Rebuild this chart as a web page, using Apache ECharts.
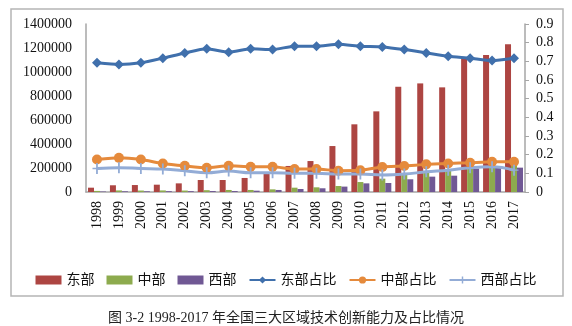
<!DOCTYPE html>
<html>
<head>
<meta charset="utf-8">
<script src="https://cdn.jsdelivr.net/npm/echarts@6/dist/echarts.min.js"></script>
<style>
  html, body { margin: 0; padding: 0; background: #fff; }
  #chart { width: 572px; height: 326px; }
</style>
</head>
<body>
<div id="chart"></div>
<script>
// Years on the category axis
const years = ['1998','1999','2000','2001','2002','2003','2004','2005','2006','2007',
               '2008','2009','2010','2011','2012','2013','2014','2015','2016','2017'];

// Technology innovation capacity by region (left axis)
const eastValues = [36000, 56000, 58000, 61000, 72000, 100000, 100000, 117000, 150000, 217000,
                    258000, 383000, 564000, 672000, 877000, 905000, 872000, 1119000, 1141000, 1231000];
const midValues  = [9000, 13000, 12000, 13000, 12000, 15000, 17000, 17000, 22000, 36000,
                    39000, 50000, 83000, 111000, 145000, 170000, 183000, 238000, 252000, 262000];
const westValues = [4000, 6000, 6000, 7000, 7000, 8000, 8000, 11000, 17000, 25000,
                    31000, 45000, 72000, 75000, 106000, 128000, 136000, 195000, 205000, 203000];

// Share of the national total (right axis)
const eastShare = [0.692, 0.683, 0.692, 0.717, 0.745, 0.767, 0.749, 0.767, 0.763, 0.781,
                   0.781, 0.791, 0.781, 0.777, 0.763, 0.745, 0.727, 0.717, 0.704, 0.717];
const midShare  = [0.174, 0.183, 0.174, 0.153, 0.140, 0.130, 0.140, 0.135, 0.135, 0.123,
                   0.123, 0.114, 0.116, 0.134, 0.139, 0.148, 0.153, 0.157, 0.162, 0.162];
const westShare = [0.126, 0.130, 0.126, 0.123, 0.114, 0.103, 0.112, 0.103, 0.103, 0.100,
                   0.100, 0.096, 0.096, 0.091, 0.096, 0.108, 0.117, 0.130, 0.135, 0.117];

// Axis tick ranges
const leftMax = 1400000, leftStep = 200000;
const rightMax = 0.9, rightStep = 0.1;

const serif = '"Liberation Serif", "Times New Roman", serif';
const cjk = '"Liberation Serif", "Noto Sans CJK SC", sans-serif';
const axisGrey = '#a6a6a6';

const chart = echarts.init(document.getElementById('chart'), null, { renderer: 'canvas' });

const plusPath = 'path://M-0.12,-1 L0.12,-1 L0.12,-0.12 L0.6,-0.12 L0.6,0.12 L0.12,0.12 L0.12,1 L-0.12,1 L-0.12,0.12 L-0.6,0.12 L-0.6,-0.12 L-0.12,-0.12 Z';

chart.setOption({
  animation: false,
  backgroundColor: '#fff',
  graphic: [{
    type: 'rect',
    shape: { x: 11, y: 9, width: 552, height: 287 },
    style: { fill: 'none', stroke: '#b5b5b5', lineWidth: 1.5 },
    silent: true,
    z: -1
  }],
  title: {
    text: '图 3-2 1998-2017 年全国三大区域技术创新能力及占比情况',
    left: 'center',
    top: 306,
    textStyle: { fontFamily: cjk, fontSize: 14, fontWeight: 'normal', color: '#222' }
  },
  legend: {
    left: 'center',
    top: 268,
    itemGap: 12,
    textStyle: { fontFamily: cjk, fontSize: 14, color: '#111' },
    data: [
      { name: '东部', icon: 'rect' },
      { name: '中部', icon: 'rect' },
      { name: '西部', icon: 'rect' },
      { name: '东部占比' },
      { name: '中部占比' },
      { name: '西部占比' }
    ],
    itemWidth: 26,
    itemHeight: 9
  },
  grid: { left: 86, right: 47, top: 24, bottom: 134, containLabel: false },
  xAxis: {
    type: 'category',
    data: years,
    boundaryGap: true,
    axisLine: { lineStyle: { color: axisGrey, width: 1.5 } },
    axisTick: { show: false },
    axisLabel: {
      rotate: 90, margin: 9, interval: 0,
      fontFamily: serif, fontSize: 14, color: '#111'
    }
  },
  yAxis: [{
    type: 'value',
    min: 0, max: leftMax, interval: leftStep,
    splitLine: { show: false },
    axisLine: { show: true, lineStyle: { color: axisGrey, width: 1.5 } },
    axisTick: { show: false },
    axisLabel: {
      margin: 14, fontFamily: serif, fontSize: 14, color: '#111',
      formatter: v => String(v)
    }
  }, {
    type: 'value',
    min: 0, max: rightMax, interval: rightStep,
    splitLine: { show: false },
    axisLine: { show: true, lineStyle: { color: axisGrey, width: 1.5 } },
    axisTick: { show: true, inside: false, length: 4, lineStyle: { color: axisGrey } },
    axisLabel: {
      margin: 11, fontFamily: serif, fontSize: 14, color: '#111',
      formatter: v => (Math.round(v * 10) / 10).toString()
    }
  }],
  series: [
    {
      name: '东部', type: 'bar', yAxisIndex: 0, data: eastValues,
      barWidth: 6, barGap: '0%',
      itemStyle: { color: '#ad4542' }
    },
    {
      name: '中部', type: 'bar', yAxisIndex: 0, data: midValues,
      barWidth: 6, barGap: '0%',
      itemStyle: { color: '#8dab4e' }
    },
    {
      name: '西部', type: 'bar', yAxisIndex: 0, data: westValues,
      barWidth: 6, barGap: '0%',
      itemStyle: { color: '#705894' }
    },
    {
      name: '东部占比', type: 'line', yAxisIndex: 1, data: eastShare,
      smooth: 0.2, symbol: 'diamond', symbolSize: 10,
      lineStyle: { color: '#4070ac', width: 3 },
      itemStyle: { color: '#4070ac' }
    },
    {
      name: '中部占比', type: 'line', yAxisIndex: 1, data: midShare,
      smooth: 0.2, symbol: 'circle', symbolSize: 10,
      lineStyle: { color: '#e58a3c', width: 3 },
      itemStyle: { color: '#e58a3c' }
    },
    {
      name: '西部占比', type: 'line', yAxisIndex: 1, data: westShare,
      smooth: 0.4, symbol: plusPath, symbolSize: [9, 11],
      lineStyle: { color: '#93acd6', width: 3 },
      itemStyle: { color: '#93acd6' }
    }
  ]
});
</script>
</body>
</html>
